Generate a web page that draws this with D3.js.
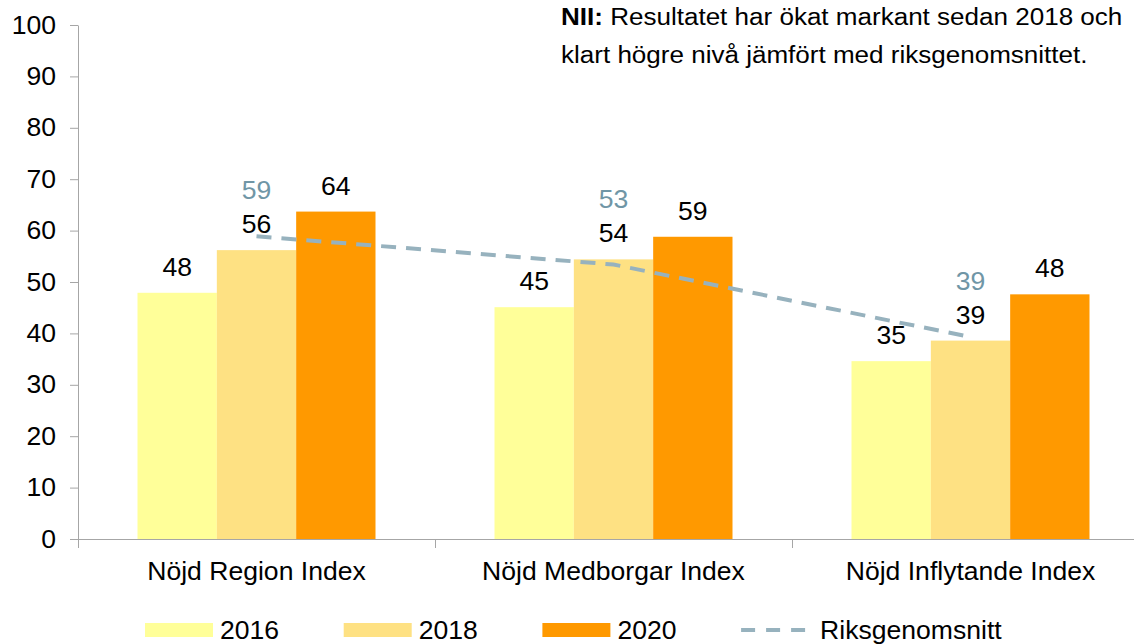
<!DOCTYPE html>
<html>
<meta charset="utf-8">
<title>Nöjd Index</title>
<style>
html, body {
  margin: 0;
  background: #fff;
}
svg {
  font-family: "Liberation Sans", Arial, sans-serif;
  display: block;
}
.axis path, .axis line {
  stroke: #a6a6a6;
}
.axis text {
  font-size: 25px;
  fill: #000;
}
.lbl {
  font-size: 25px;
  fill: #000;
}
.lbl-riks {
  font-size: 25px;
  fill: #7096a6;
}
</style>
<body>
<svg></svg>
<script src="https://d3js.org/d3.v7.min.js"></script>
<script>

var categories = ["Nöjd Region Index", "Nöjd Medborgar Index", "Nöjd Inflytande Index"];
var years = ["2016", "2018", "2020"];
var values2016 = [47.9, 45.1, 34.6];
var values2018 = [56.2, 54.4, 38.6];
var values2020 = [63.7, 58.8, 47.6];
var riks = [58.9, 53.4, 39.3];
var yTicks = [0, 10, 20, 30, 40, 50, 60, 70, 80, 90, 100];
var riksName = "Riksgenomsnitt";

var colors = {"2016": "#ffff99", "2018": "#fee183", "2020": "#ff9900"};
var riksColor = "#97b2be";

// the original text is a little wider than Arial, so stretch it sideways
function stretch(sel) {
  sel.each(function() {
    var t = d3.select(this);
    var x = +t.attr("x") || 0, y = +t.attr("y") || 0;
    t.attr("x", null).attr("y", null)
      .attr("transform", "translate(" + x + "," + y + ") scale(1.063,1)");
  });
}

var svg = d3.select("svg")
    .attr("width", 1134)
    .attr("height", 644);

// plot area runs a bit past the right edge of the picture
var margin = {top: 25, left: 78},
    width = 1071,
    height = 514;

var x0 = d3.scaleBand().domain(categories)
    .range([0, width]).paddingInner(1 / 3).paddingOuter(1 / 6);
var x1 = d3.scaleBand().domain(years).range([0, x0.bandwidth()]);
var y = d3.scaleLinear().domain([0, 100]).range([height, 0]);

var g = svg.append("g")
    .attr("transform", "translate(" + margin.left + "," + margin.top + ")");

var rows = categories.map(function(c, i) {
  return {cat: c, vals: [values2016[i], values2018[i], values2020[i]], riks: riks[i]};
});

// y axis
var yAxis = g.append("g")
    .attr("class", "axis axis--y")
    .call(d3.axisLeft(y).tickValues(yTicks).tickSize(8).tickSizeOuter(0).tickPadding(14));
yAxis.selectAll("text").attr("x", -22).call(stretch);

// x axis (labels centred, ticks on category boundaries)
var xAxis = g.append("g")
    .attr("class", "axis axis--x")
    .attr("transform", "translate(0," + height + ")")
    .call(d3.axisBottom(x0).tickSize(0).tickSizeOuter(0));
xAxis.select(".domain").attr("d", "M-8,0.5H" + width);
xAxis.selectAll("text").attr("y", 41).attr("dy", 0).call(stretch);

var step = x0.step();
var bounds = categories.map(function(c) { return x0(c) - step * x0.paddingInner() / 2; });
bounds.push(bounds[bounds.length - 1] + step);
xAxis.selectAll(".bound")
    .data(bounds)
  .enter().append("line")
    .attr("class", "bound")
    .attr("x1", function(d) { return d + 0.5; })
    .attr("x2", function(d) { return d + 0.5; })
    .attr("y1", 0)
    .attr("y2", 9);

// bars
var groups = g.selectAll(".grp")
    .data(rows)
  .enter().append("g")
    .attr("class", "grp")
    .attr("transform", function(d) { return "translate(" + x0(d.cat) + ",0)"; });

groups.selectAll("rect")
    .data(function(d) { return d.vals.map(function(v, j) { return {year: years[j], v: v}; }); })
  .enter().append("rect")
    .attr("x", function(d) { return x1(d.year); })
    .attr("y", function(d) { return y(d.v); })
    .attr("width", x1.bandwidth())
    .attr("height", function(d) { return height - y(d.v); })
    .attr("fill", function(d) { return colors[d.year]; });

// riksgenomsnitt line, through the middle of the 2018 bars
var riksX = function(d) { return x0(d.cat) + x1("2018") + x1.bandwidth() / 2; };
g.append("path")
    .datum(rows)
    .attr("fill", "none")
    .attr("stroke", riksColor)
    .attr("stroke-width", 4)
    .attr("stroke-dasharray", "15,10")
    .attr("d", d3.line().x(riksX).y(function(d) { return y(d.riks); }));

// value labels
groups.selectAll("text.lbl")
    .data(function(d) { return d.vals.map(function(v, j) { return {year: years[j], v: v}; }); })
  .enter().append("text")
    .attr("class", "lbl")
    .attr("text-anchor", "middle")
    .attr("x", function(d) { return x1(d.year) + x1.bandwidth() / 2; })
    .attr("y", function(d) { return y(d.v) - 17; })
    .text(function(d) { return Math.round(d.v); })
    .call(stretch);

g.selectAll("text.lbl-riks")
    .data(rows)
  .enter().append("text")
    .attr("class", "lbl-riks")
    .attr("text-anchor", "middle")
    .attr("x", riksX)
    .attr("y", function(d) { return y(d.vals[1]) - 51; })
    .text(function(d) { return Math.round(d.riks); })
    .call(stretch);

// note in top right corner
var note = svg.append("text")
    .attr("x", 561)
    .attr("y", 25)
    .style("font-size", "24.5px");
note.append("tspan").style("font-weight", "bold").text("NII:");
note.append("tspan").text(" Resultatet har ökat markant sedan 2018 och");
note.call(stretch);
svg.append("text")
    .attr("x", 561)
    .attr("y", 63)
    .style("font-size", "24.5px")
    .text("klart högre nivå jämfört med riksgenomsnittet.")
    .call(stretch);

// legend
var legend = svg.append("g").attr("transform", "translate(145,630)");
var items = years.concat([riksName]);
var li = legend.selectAll(".li")
    .data(items)
  .enter().append("g")
    .attr("class", "li")
    .attr("transform", function(d, i) { return "translate(" + (i * 198.7) + ",0)"; });

li.filter(function(d) { return d !== riksName; })
  .append("rect")
    .attr("x", 0)
    .attr("y", -7)
    .attr("width", 68)
    .attr("height", 14)
    .attr("fill", function(d) { return colors[d]; });

li.filter(function(d) { return d === riksName; })
  .append("line")
    .attr("x1", 0)
    .attr("x2", 70)
    .attr("y1", 0)
    .attr("y2", 0)
    .attr("stroke", riksColor)
    .attr("stroke-width", 4)
    .attr("stroke-dasharray", "14,11");

li.append("text")
    .attr("x", function(d) { return d === riksName ? 79 : 75; })
    .attr("y", 9)
    .style("font-size", "25px")
    .text(function(d) { return d; })
    .call(stretch);

</script>
</body>
</html>
